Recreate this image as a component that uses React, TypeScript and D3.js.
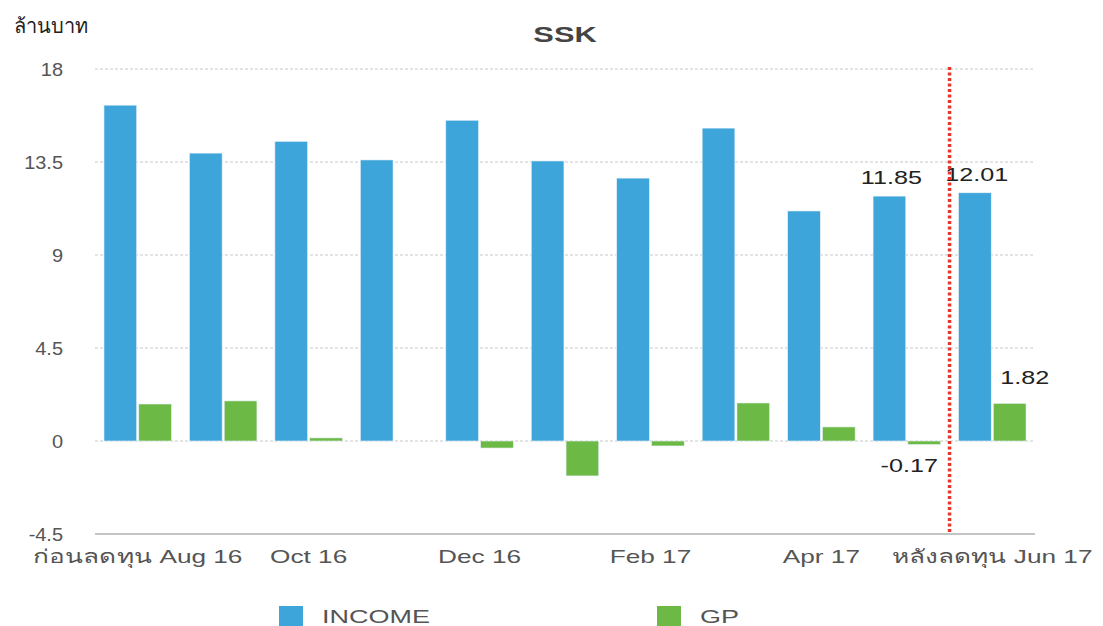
import React from "react";
import * as d3 from "d3";

const categories = ["Aug 16", "Sep 16", "Oct 16", "Nov 16", "Dec 16", "Jan 17", "Feb 17", "Mar 17", "Apr 17", "May 17", "Jun 17"];
const tickLabels: Record<string, string> = {
  "Aug 16": "ก่อนลดทุน Aug 16",
  "Oct 16": "Oct 16",
  "Dec 16": "Dec 16",
  "Feb 17": "Feb 17",
  "Apr 17": "Apr 17",
  "Jun 17": "หลังลดทุน Jun 17",
};
const income = [16.25, 13.93, 14.5, 13.6, 15.52, 13.55, 12.72, 15.14, 11.13, 11.85, 12.01];
const gp = [1.79, 1.94, 0.15, 0, -0.34, -1.69, -0.24, 1.84, 0.68, -0.17, 1.82];
const yTicks = [-4.5, 0, 4.5, 9, 13.5, 18];
const labelIncome = [false, false, false, false, false, false, false, false, false, true, true];
const labelGp = [false, false, false, false, false, false, false, false, false, true, true];
const seriesNames = ["INCOME", "GP"];
const colors = ["#3EA5DA", "#6CB946"];
const dividerAfter = "May 17";

const W = 1103, H = 626;
const left = 95, right = 1035, top = 69, bottom = 534;
const font = "'Liberation Sans', Arial, Helvetica, sans-serif";
const SX = 1.4;

function WideText({ x, y, anchor = "middle", sx = SX, children, ...rest }: any) {
  return (
    <text transform={`translate(${x},${y}) scale(${sx},1)`} textAnchor={anchor} {...rest}>
      {children}
    </text>
  );
}

export default function App() {
  const x = d3.scaleBand().domain(categories).range([left, right]).paddingInner(0.21).paddingOuter(0.105);
  const xs = d3.scaleBand().domain(seriesNames).range([0, x.bandwidth()]).paddingInner(0.06);
  const y = d3.scaleLinear().domain([-4.5, 18]).range([bottom, top]);
  const step = x.step();
  const divX = (x(dividerAfter) as number) + x.bandwidth() + (step - x.bandwidth()) / 2;

  return (
    <svg width={W} height={H} style={{ position: "absolute", left: 0, top: 0, background: "#fff" }} fontFamily={font}>
      <text x={14} y={33} fontSize={20} fill="#222">ล้านบาท</text>
      <WideText x={565} y={42} fontSize={22} fontWeight="bold" fill="#444">SSK</WideText>
      {yTicks.map((t) => (
        <g key={t}>
          {t !== -4.5 && (
            <line x1={left} x2={right} y1={y(t)} y2={y(t)} stroke="#c8c8c8" strokeDasharray="3,2" strokeWidth={1} />
          )}
          <WideText x={63} y={y(t) + 7} anchor="end" sx={1.05} fontSize={19} fill="#555">{t}</WideText>
        </g>
      ))}
      <line x1={left} x2={right} y1={bottom} y2={bottom} stroke="#c4c4c4" strokeWidth={2} />
      {categories.map((c, i) => {
        const gx = x(c) as number;
        const vals = [income[i], gp[i]];
        return (
          <g key={c}>
            {vals.map((v, j) => {
              const bx = gx + (xs(seriesNames[j]) as number);
              const y0 = y(Math.max(0, v));
              const h = Math.abs(y(v) - y(0));
              return h > 0 ? (
                <rect key={j} x={bx} y={y0} width={xs.bandwidth()} height={h} fill={colors[j]} stroke="#e8f2f8" strokeWidth={0.6} />
              ) : null;
            })}
            {labelIncome[i] && (
              <WideText x={gx + (xs("INCOME") as number) + xs.bandwidth() / 2 + 2} y={y(income[i]) - 12} fontSize={18} fill="#222">
                {income[i].toFixed(2)}
              </WideText>
            )}
            {labelGp[i] && (
              <WideText
                x={gx + (xs("GP") as number) + xs.bandwidth() / 2 + (gp[i] >= 0 ? 15 : -15)}
                y={gp[i] >= 0 ? y(gp[i]) - 19 : y(gp[i]) + 27}
                fontSize={18}
                fill="#222"
              >
                {gp[i].toFixed(2)}
              </WideText>
            )}
            {tickLabels[c] && (
              <WideText x={gx + x.bandwidth() / 2} y={563} fontSize={19} sx={1.38} fill="#555">
                {tickLabels[c]}
              </WideText>
            )}
          </g>
        );
      })}
      <line x1={divX} x2={divX} y1={top - 2} y2={bottom} stroke="#E8352B" strokeWidth={3.5} strokeDasharray="3,2.5" />
      {seriesNames.map((s, i) => {
        const lx = i === 0 ? 279 : 657;
        return (
          <g key={s}>
            <rect x={lx} y={606} width={24} height={20} fill={colors[i]} />
            <WideText x={lx + 43} y={623} anchor="start" sx={1.5} fontSize={18} fill="#555">{s}</WideText>
          </g>
        );
      })}
    </svg>
  );
}
